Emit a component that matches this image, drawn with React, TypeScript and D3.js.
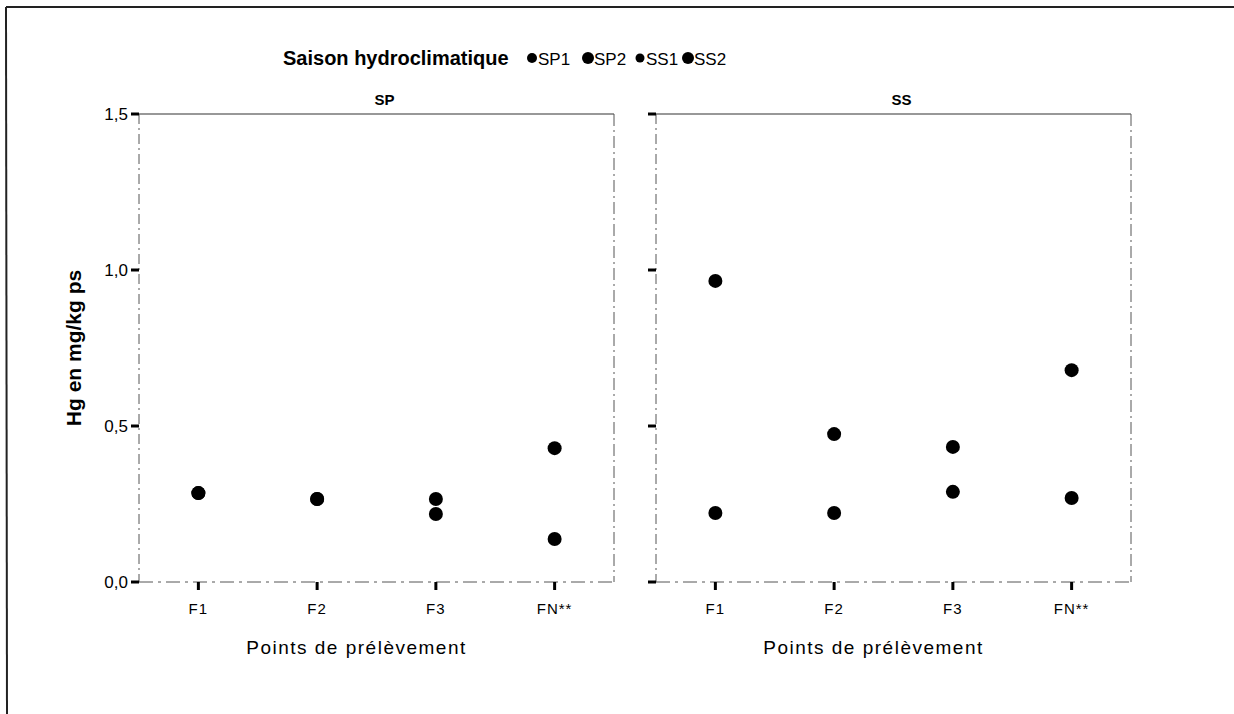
import React from "react";
import * as d3 from "d3";

const categories = ["F1", "F2", "F3", "FN**"];
const panels = ["SP", "SS"];
const seriesNames = ["SP1", "SP2", "SS1", "SS2"];
const SP1 = [0.285, 0.266, 0.266, 0.429];
const SP2 = [0.285, 0.266, 0.218, 0.138];
const SS1 = [0.965, 0.474, 0.433, 0.679];
const SS2 = [0.221, 0.221, 0.289, 0.269];
const yTicks = [0, 0.5, 1.0, 1.5];
const yTickLabels = ["0,0", "0,5", "1,0", "1,5"];

const W = 1234;
const H = 714;
const panelLeft = [139, 656];
const panelWidth = 475;
const top = 114;
const bottom = 582;
const font = "Arial, 'Liberation Sans', Helvetica, sans-serif";

export default function App() {
  const y = d3.scaleLinear().domain([0, 1.5]).range([bottom, top]);
  const panelSeries: number[][][] = [
    [SP1, SP2],
    [SS1, SS2],
  ];
  const legendX = [527, 583, 635, 683];
  const legendR = [5, 6, 4.5, 6];

  return (
    <svg width={W} height={H} style={{ position: "absolute", left: 0, top: 0 }}>
      <rect x={0} y={0} width={W} height={H} fill="#fff" />
      {/* outer frame */}
      <line x1={6} y1={7} x2={W} y2={7} stroke="#222" strokeWidth={2} />
      <line x1={6} y1={7} x2={7} y2={H} stroke="#222" strokeWidth={2} />

      {/* title + legend */}
      <text x={283} y={65} fontFamily={font} fontSize={20} fontWeight="bold" fill="#000">
        Saison hydroclimatique
      </text>
      {seriesNames.map((s, i) => (
        <g key={s}>
          <circle cx={legendX[i] + 5} cy={58} r={legendR[i]} fill="#000" />
          <text x={legendX[i] + 11} y={65} fontFamily={font} fontSize={17} fill="#000">
            {s}
          </text>
        </g>
      ))}

      {/* y axis title */}
      <text
        transform={`translate(81,348) rotate(-90)`}
        textAnchor="middle"
        fontFamily={font}
        fontSize={21}
        fontWeight="bold"
        fill="#000"
      >
        Hg en mg/kg ps
      </text>

      {panels.map((p, pi) => {
        const x0 = panelLeft[pi];
        const x = d3
          .scalePoint<string>()
          .domain(categories)
          .range([x0, x0 + panelWidth])
          .padding(0.5);
        return (
          <g key={p}>
            <text
              x={x0 + panelWidth / 2 + 8}
              y={105}
              textAnchor="middle"
              fontFamily={font}
              fontSize={15}
              fontWeight="bold"
              fill="#000"
            >
              {p}
            </text>
            {/* frame */}
            <line x1={x0} y1={top} x2={x0 + panelWidth} y2={top} stroke="#333" strokeWidth={1.2} />
            <line x1={x0} y1={top} x2={x0} y2={bottom} stroke="#555" strokeWidth={1} strokeDasharray="10,4,2,4" />
            <line
              x1={x0 + panelWidth}
              y1={top}
              x2={x0 + panelWidth}
              y2={bottom}
              stroke="#555"
              strokeWidth={1}
              strokeDasharray="12,4,2,4"
            />
            <line x1={x0} y1={bottom} x2={x0 + panelWidth} y2={bottom} stroke="#555" strokeWidth={1} strokeDasharray="14,5,3,5" />
            {/* y ticks */}
            {yTicks.map((t, ti) => (
              <g key={ti}>
                <line x1={x0 - 8} y1={y(t)} x2={x0} y2={y(t)} stroke="#000" strokeWidth={3} />
                {pi === 0 && (
                  <text
                    x={x0 - 11}
                    y={y(t) + 6}
                    textAnchor="end"
                    fontFamily={font}
                    fontSize={17}
                    fill="#000"
                  >
                    {yTickLabels[ti]}
                  </text>
                )}
              </g>
            ))}
            {/* x ticks */}
            {categories.map((c) => (
              <g key={c}>
                <line x1={x(c)!} y1={bottom} x2={x(c)!} y2={bottom + 8} stroke="#000" strokeWidth={3} />
                <text
                  x={x(c)!}
                  y={bottom + 32}
                  textAnchor="middle"
                  fontFamily={font}
                  fontSize={15}
                  letterSpacing={1}
                  fill="#000"
                >
                  {c}
                </text>
              </g>
            ))}
            <text
              x={x0 + panelWidth / 2 - 20}
              y={654}
              textAnchor="middle"
              fontFamily={font}
              fontSize={19}
              letterSpacing={1.5}
              fill="#000"
            >
              Points de prélèvement
            </text>
            {/* points */}
            {panelSeries[pi].map((vals, si) =>
              vals.map((v, ci) => (
                <circle key={`${si}-${ci}`} cx={x(categories[ci])!} cy={y(v)} r={7} fill="#000" />
              ))
            )}
          </g>
        );
      })}
    </svg>
  );
}
